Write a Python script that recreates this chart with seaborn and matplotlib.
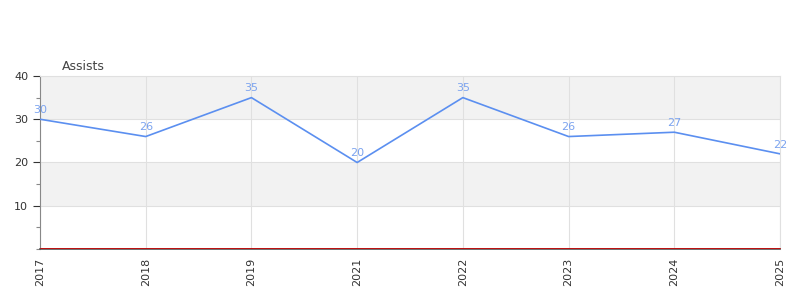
import matplotlib
matplotlib.use("Agg")
import matplotlib.pyplot as plt
import seaborn as sns
import pandas as pd
from matplotlib.ticker import MultipleLocator

years = ["2017", "2018", "2019", "2021", "2022", "2023", "2024", "2025"]
assists = [30, 26, 35, 20, 35, 26, 27, 22]
title = "Assists"

sns.set_style("white")
plt.rcParams["font.family"] = ["DejaVu Sans"]

df = pd.DataFrame({"year": years, "assists": assists})

fig = plt.figure(figsize=(8, 3), dpi=100)
ax = fig.add_axes([0.05, 0.17, 0.925, 0.5767])

# bands
ax.axhspan(30, 40, color="#f2f2f2", zorder=0, lw=0)
ax.axhspan(10, 20, color="#f2f2f2", zorder=0, lw=0)

sns.lineplot(data=df, x="year", y="assists", ax=ax, color="#5b8ff0",
             linewidth=1.2, sort=False, zorder=3)

for i, v in enumerate(assists):
    ax.text(i, v + 1.0, str(v), color="#7ba3ef", fontsize=8,
            ha="center", va="bottom", zorder=4)

ax.set_xlim(0, len(years) - 1)
ax.set_ylim(0, 40)
ax.set_yticks([10, 20, 30, 40])
ax.yaxis.set_minor_locator(MultipleLocator(5))
ax.grid(True, which="major", axis="both", color="#e0e0e0", linewidth=0.8, zorder=1)
ax.set_axisbelow(True)

ax.set_xlabel("")
ax.set_ylabel("")
ax.tick_params(axis="x", rotation=90, labelsize=8, colors="#333333", length=0, pad=6)
ax.tick_params(axis="y", which="major", labelsize=8, colors="#333333", length=5, width=0.8, direction="out", left=True)
ax.tick_params(axis="y", which="minor", length=3, width=0.8, colors="#888888", left=True)
for lab in ax.get_yticklabels():
    lab.set_color("#333333")

ax.spines["left"].set_color("#888888")
ax.spines["left"].set_linewidth(0.8)
ax.spines["top"].set_color("#e0e0e0")
ax.spines["top"].set_linewidth(0.8)
ax.spines["right"].set_color("#e0e0e0")
ax.spines["right"].set_linewidth(0.8)
ax.spines["bottom"].set_color("#555555")
ax.spines["bottom"].set_linewidth(1.2)
ax.axhline(0.15, color="#cc0000", linewidth=0.6, zorder=5, clip_on=False)

fig.text(62 / 800, 1 - 66 / 300, title, fontsize=9, color="#444444", ha="left", va="center")

fig.savefig("out.png", dpi=100)
